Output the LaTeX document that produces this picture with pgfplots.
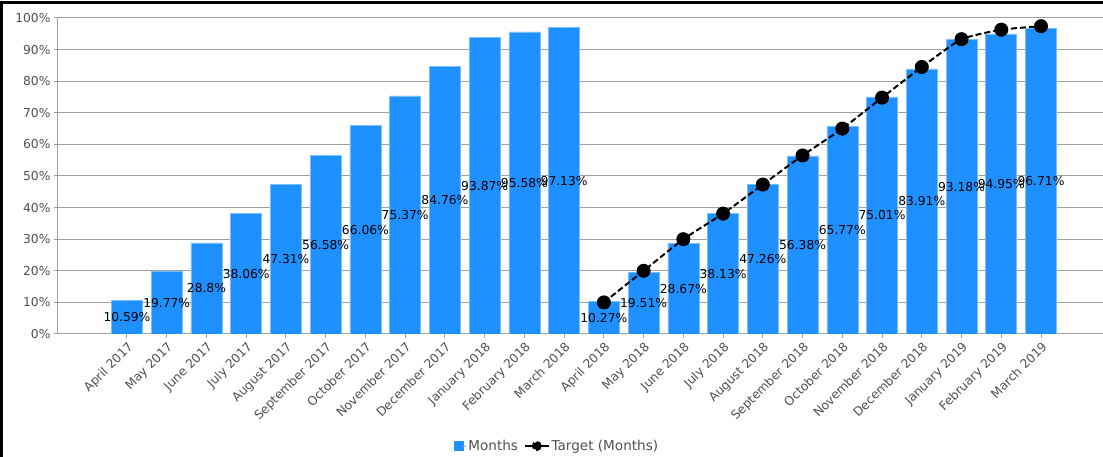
\documentclass[border=0pt]{standalone}
\usepackage{pgfplots}
\pgfplotsset{compat=1.18}
\usepackage{pgfplotstable}
\usepackage{fontspec}
\setmainfont{DejaVu Sans}
\definecolor{barblue}{RGB}{30,144,255}
\definecolor{baredge}{RGB}{120,190,255}
\definecolor{gridgray}{RGB}{160,160,160}
\definecolor{labgray}{RGB}{80,80,80}

\pgfplotstableread{
x v
0 10.59
1 19.77
2 28.8
3 38.06
4 47.31
5 56.58
6 66.06
7 75.37
8 84.76
9 93.87
10 95.58
11 97.13
12 10.27
13 19.51
14 28.67
15 38.13
16 47.26
17 56.38
18 65.77
19 75.01
20 83.91
21 93.18
22 94.95
23 96.71
}\months

\pgfplotstableread{
x t
12 10.0
13 20.0
14 30.0
15 38.1
16 47.3
17 56.5
18 65.0
19 74.8
20 84.5
21 93.3
22 96.3
23 97.4
}\target

\begin{document}
\begin{tikzpicture}
\path[use as bounding box] (0,0) rectangle (1103pt,457pt);
\begin{axis}[
  at={(58pt,123pt)}, anchor=south west,
  scale only axis, width=1045pt, height=316pt,
  xmin=-1.736, xmax=24.56, ymin=0, ymax=100,
  axis lines*=left,
  axis line style={gridgray, line width=1pt},
  tick align=outside, major tick length=4pt,
  tick style={gridgray, line width=1pt},
  ymajorgrids, major grid style={gridgray, line width=1pt},
  ytick={0,10,...,100},
  yticklabel={\pgfmathprintnumber{\tick}\%},
  /pgf/number format/assume math mode=true,
  yticklabel style={font=\fontsize{12.3}{14}\selectfont, text=labgray},
  xtick={0,...,23},
  xticklabels={April 2017, May 2017, June 2017, July 2017, August 2017, September 2017, October 2017, November 2017, December 2017, January 2018, February 2018, March 2018, April 2018, May 2018, June 2018, July 2018, August 2018, September 2018, October 2018, November 2018, December 2018, January 2019, February 2019, March 2019},
  xticklabel style={font=\fontsize{12.3}{14}\selectfont, text=labgray, rotate=45, anchor=north east, inner sep=2pt},
  legend style={at={(0.4775,-0.3544)}, anchor=center, draw=none, fill=none, font=\fontsize{13.6}{15}\selectfont, text=labgray, /tikz/every even column/.append style={column sep=4pt}},
  legend columns=-1,
]
\addplot[ybar, bar width=31pt, bar shift=0pt, fill=barblue, draw=baredge, line width=0.6pt,
  legend image code/.code={\fill[barblue] (0pt,-4.5pt) rectangle (9pt,4.5pt); \path (9pt,0pt) -- (12pt,0pt);}]
  table[x=x, y=v] {\months};
\addlegendentry{Months}
\addplot[draw=none, mark=none, forget plot,
  nodes near coords={\pgfplotspointmeta\%},
  point meta=explicit symbolic,
  every node near coord/.append style={anchor=center, font=\fontsize{12.3}{14}\selectfont, text=black, inner sep=0pt}]
  table[x=x, y expr=\thisrow{v}/2, meta=v] {\months};
\addplot[black, line width=2pt, dash pattern=on 6pt off 3pt, mark=*, mark size=6pt, mark options={solid}, smooth, tension=0.3,
  legend image code/.code={\draw[black, solid, line width=1.5pt] (0pt,0pt) -- (24pt,0pt); \fill[black] (12pt,0pt) circle (4pt);}]
  table[x=x, y=t] {\target};
\addlegendentry{Target (Months)}
\end{axis}
\draw[black, line width=3pt] (1.5pt,-2pt) -- (1.5pt,454pt) -- (1105pt,454pt);
\end{tikzpicture}
\end{document}
